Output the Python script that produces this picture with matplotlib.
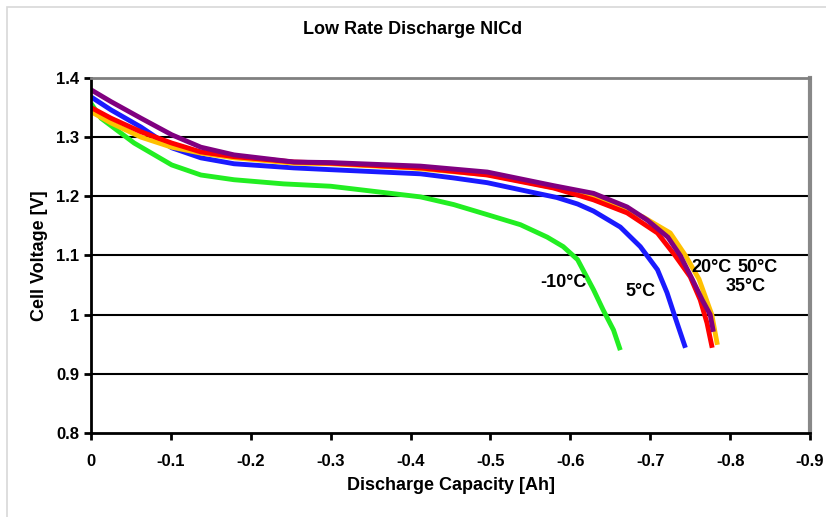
import matplotlib.pyplot as plt
from matplotlib.patches import Rectangle

# discharge capacity [Ah] (plotted as negative) and cell voltage [V]
cap_m10 = [0, 0.0125, 0.054, 0.101, 0.1375, 0.179, 0.241, 0.3, 0.4125, 0.454, 0.496,
           0.5375, 0.571, 0.591, 0.609, 0.629, 0.641, 0.654, 0.6625]
v_m10 = [1.357, 1.332, 1.29, 1.253, 1.236, 1.228, 1.221, 1.217, 1.199, 1.186, 1.169,
         1.152, 1.131, 1.115, 1.093, 1.042, 1.008, 0.974, 0.94]

cap_5 = [0, 0.025, 0.0625, 0.101, 0.1375, 0.179, 0.254, 0.3, 0.4125, 0.454, 0.496,
         0.5375, 0.583, 0.609, 0.629, 0.6625, 0.6875, 0.709, 0.721, 0.731, 0.744]
v_5 = [1.368, 1.346, 1.317, 1.282, 1.265, 1.255, 1.248, 1.245, 1.238, 1.231, 1.223,
       1.211, 1.198, 1.187, 1.175, 1.148, 1.115, 1.076, 1.037, 0.996, 0.944]

cap_20 = [0, 0.025, 0.0625, 0.101, 0.1375, 0.179, 0.254, 0.3, 0.4125, 0.496, 0.579,
          0.629, 0.671, 0.709, 0.731, 0.75, 0.7625, 0.771, 0.7775]
v_20 = [1.35, 1.332, 1.309, 1.29, 1.275, 1.267, 1.258, 1.256, 1.248, 1.236, 1.214,
        1.194, 1.172, 1.138, 1.10, 1.064, 1.025, 0.986, 0.944]

cap_35 = [0, 0.025, 0.0625, 0.101, 0.1375, 0.179, 0.254, 0.3, 0.4, 0.5, 0.596,
          0.6375, 0.691, 0.725, 0.744, 0.761, 0.777, 0.784]
v_35 = [1.343, 1.324, 1.30, 1.283, 1.273, 1.265, 1.256, 1.255, 1.248, 1.236, 1.21,
        1.194, 1.165, 1.138, 1.10, 1.06, 1.0, 0.949]

cap_50 = [0, 0.025, 0.0625, 0.101, 0.1375, 0.179, 0.254, 0.3, 0.4125, 0.496, 0.579,
          0.629, 0.671, 0.696, 0.722, 0.7375, 0.7525, 0.765, 0.775, 0.779]
v_50 = [1.38, 1.36, 1.332, 1.304, 1.283, 1.27, 1.258, 1.257, 1.251, 1.241, 1.218,
        1.205, 1.182, 1.16, 1.131, 1.10, 1.06, 1.025, 1.0, 0.971]

labels = ['-10°C', '5°C', '20°C', '50°C', '35°C']
label_pos = [(-0.5625, 1.054), (-0.669, 1.039), (-0.751, 1.079), (-0.809, 1.079), (-0.794, 1.047)]

xticks = [0, -0.1, -0.2, -0.3, -0.4, -0.5, -0.6, -0.7, -0.8, -0.9]
xticklabels = ['0', '-0.1', '-0.2', '-0.3', '-0.4', '-0.5', '-0.6', '-0.7', '-0.8', '-0.9']
yticks = [0.8, 0.9, 1.0, 1.1, 1.2, 1.3, 1.4]
yticklabels = ['0.8', '0.9', '1', '1.1', '1.2', '1.3', '1.4']

plt.rcParams['font.family'] = 'Liberation Sans'
plt.rcParams['font.weight'] = 'bold'

fig = plt.figure(figsize=(8.26, 5.17), dpi=100)
fig.patches.append(Rectangle((0.008, -0.02), 1.0, 1.006, transform=fig.transFigure,
                             fill=False, edgecolor='#d8d8d8', linewidth=1.2))
ax = fig.add_axes([0.1102, 0.1625, 0.8705, 0.6867])

series = [(cap_m10, v_m10, '#22ee22'), (cap_5, v_5, '#1a1aff'),
          (cap_35, v_35, '#ffc000'), (cap_20, v_20, '#ff0000'),
          (cap_50, v_50, '#800080')]
for cap, v, c in series:
    ax.plot([-x for x in cap], v, color=c, linewidth=3.5, solid_capstyle='butt')

for t, (x, y) in zip(labels, label_pos):
    ax.text(x, y, t, fontsize=13, fontweight='bold', ha='left', va='center')

ax.set_xlim(0, -0.9)
ax.set_ylim(0.8, 1.4)
ax.set_xticks(xticks)
ax.set_xticklabels(xticklabels)
ax.set_yticks(yticks)
ax.set_yticklabels(yticklabels)
ax.tick_params(axis='both', labelsize=12, width=2, length=5, direction='out')
ax.tick_params(axis='x', pad=10)
for lab in ax.get_xticklabels() + ax.get_yticklabels():
    lab.set_fontweight('bold')

for y in [0.9, 1.0, 1.1, 1.2, 1.3]:
    ax.axhline(y, color='black', linewidth=1.5, zorder=0)

ax.spines['left'].set_linewidth(2)
ax.spines['bottom'].set_linewidth(2)
ax.spines['top'].set_color('#808080')
ax.spines['top'].set_linewidth(2)
ax.spines['right'].set_color('#888888')
ax.spines['right'].set_linewidth(3)

ax.set_xlabel('Discharge Capacity [Ah]', fontsize=13, fontweight='bold', labelpad=6)
ax.set_ylabel('Cell Voltage [V]', fontsize=13, fontweight='bold', labelpad=6)
fig.text(0.5, 0.935, 'Low Rate Discharge NICd', fontsize=13, fontweight='bold', ha='center')

fig.savefig('out.png', dpi=100)
